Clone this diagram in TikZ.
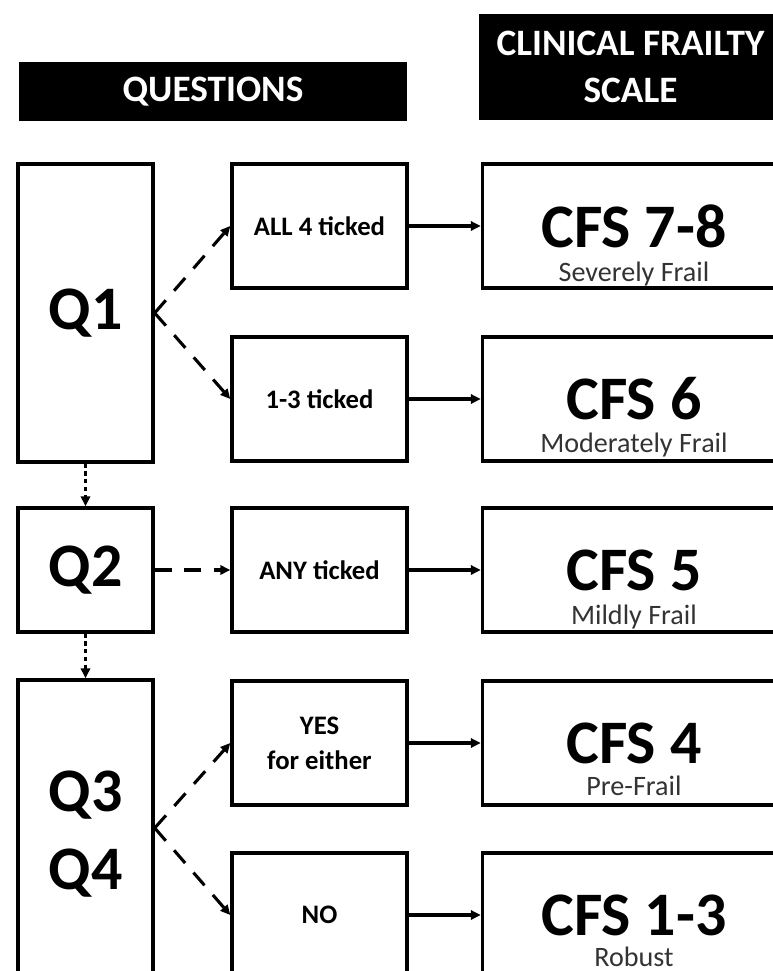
\documentclass[tikz,border=0pt]{standalone}
\usepackage{fontspec}
\setmainfont{Carlito}
\usetikzlibrary{positioning,arrows.meta}
\definecolor{subgray}{HTML}{333333}

\tikzset{
	head/.style={fill=black, text=white, inner sep=0pt, align=center, font=\bfseries\fontsize{26.5}{33}\selectfont},
	qbox/.style={draw, line width=2.4pt, inner sep=0pt, minimum width=3.375cm, align=center, font=\bfseries\fontsize{44}{55}\selectfont},
	abox/.style={draw, line width=2.4pt, inner sep=0pt, minimum width=4.375cm, minimum height=3.1cm, align=center, font=\bfseries\fontsize{19}{25}\selectfont},
	cbox/.style={draw, line width=2.4pt, inner sep=0pt, minimum width=7.575cm, minimum height=3.1cm, font=\bfseries\fontsize{44}{50}\selectfont},
	sub/.style={anchor=base, inner sep=0pt, text=subgray, font=\fontsize{20}{22}\selectfont},
	solidarrow/.style={line width=2.2pt, -{Triangle[length=7pt,width=6.5pt]}},
	dasharrow/.style={solidarrow, dash pattern=on 12pt off 9pt},
	dotarrow/.style={solidarrow, dash pattern=on 3pt off 2.5pt},
}

\begin{document}
\begin{tikzpicture}[x=0.025cm, y=-0.025cm]
	\useasboundingbox (0,0) rectangle (773,971);
	\clip (0,0) rectangle (773,971);

	% headings
	\node[head, minimum width=9.7cm, minimum height=1.475cm] (hq) at (213,91.5) {QUESTIONS};
	\node[head, minimum width=7.575cm, minimum height=2.65cm] (hc) at (630.5,67) {CLINICAL FRAILTY\\SCALE};

	% questions
	\node[qbox, minimum height=7.45cm] (q1) at (85.5,313) {Q1};
	\node[qbox, minimum height=3.1cm] (q2) at (85.5,570) {Q2};
	\node[qbox, minimum height=7.7cm] (q34) at (85.5,834) {Q3\\Q4};

	% answers
	\node[abox] (r1) at (319.5,226) {ALL 4 ticked};
	\node[abox] (r2) at (319.5,399) {1-3 ticked};
	\node[abox] (r3) at (319.5,570) {ANY ticked};
	\node[abox] (r4) at (319.5,743) {YES\\for either};
	\node[abox] (r5) at (319.5,915) {NO};

	% scale
	\node[cbox, right=1.8cm of r1] (c1) {CFS 7-8};
	\node[cbox, right=1.8cm of r2] (c2) {CFS 6};
	\node[cbox, right=1.8cm of r3] (c3) {CFS 5};
	\node[cbox, right=1.8cm of r4] (c4) {CFS 4};
	\node[cbox, right=1.8cm of r5] (c5) {CFS 1-3};

	\node[sub] (s1) at ([yshift=0.2cm]c1.south) {Severely Frail};
	\node[sub] (s2) at ([yshift=0.25cm]c2.south) {Moderately Frail};
	\node[sub] (s3) at ([yshift=0.22cm]c3.south) {Mildly Frail};
	\node[sub] (s4) at ([yshift=0.28cm]c4.south) {Pre-Frail};
	\node[sub] (s5) at ([yshift=0.31cm]c5.south) {Robust};

	\draw[dasharrow] (q1.east) -- (r1.west);
	\draw[dasharrow] (q1.east) -- (r2.west);
	\draw[dasharrow] (q2.east) -- (r3.west);
	\draw[dasharrow] (q34.east |- 0,828) -- (r4.west);
	\draw[dasharrow] (q34.east |- 0,828) -- (r5.west);

	\draw[dotarrow] (q1.south) -- (q2.north);
	\draw[dotarrow] (q2.south) -- (q34.north);

	\foreach \i in {1,...,5}
		\draw[solidarrow] (r\i.east) -- (c\i.west);
\end{tikzpicture}
\end{document}
